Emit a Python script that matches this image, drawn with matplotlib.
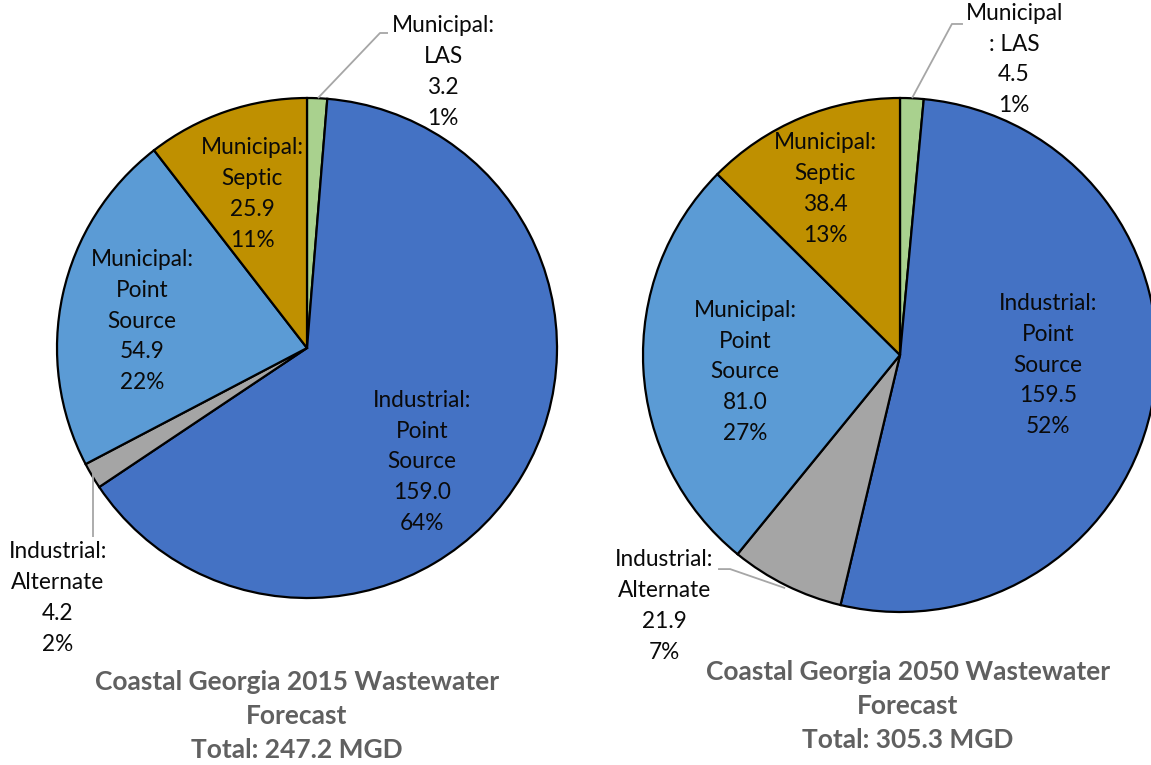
import matplotlib
matplotlib.use("Agg")
import matplotlib.pyplot as plt

plt.rcParams['font.family'] = ['Lato', 'DejaVu Sans']

# ---- data ----
categories = ["Municipal: LAS", "Industrial: Point Source", "Industrial: Alternate",
              "Municipal: Point Source", "Municipal: Septic"]
label_names_2015 = ["Municipal:\nLAS", "Industrial:\nPoint\nSource", "Industrial:\nAlternate",
                    "Municipal:\nPoint\nSource", "Municipal:\nSeptic"]
label_names_2050 = ["Municipal\n: LAS", "Industrial:\nPoint\nSource", "Industrial:\nAlternate",
                    "Municipal:\nPoint\nSource", "Municipal:\nSeptic"]
values_2015 = [3.2, 159.0, 4.2, 54.9, 25.9]
values_2050 = [4.5, 159.5, 21.9, 81.0, 38.4]
pct_2015 = ["1%", "64%", "2%", "22%", "11%"]
pct_2050 = ["1%", "52%", "7%", "27%", "13%"]
title_2015 = "Coastal Georgia 2015 Wastewater\nForecast\nTotal: 247.2 MGD"
title_2050 = "Coastal Georgia 2050 Wastewater\nForecast\nTotal: 305.3 MGD"

colors = ["#A9D18E", "#4472C4", "#A5A5A5", "#5B9BD5", "#BF9000"]

W, H = 1151, 765
fig = plt.figure(figsize=(W / 100, H / 100), dpi=100)
fig.patch.set_facecolor("white")


def pie_axes(cx, cy, r):
    ax = fig.add_axes([(cx - r) / W, (H - cy - r) / H, 2 * r / W, 2 * r / H])
    ax.set_xlim(-1, 1)
    ax.set_ylim(-1, 1)
    ax.axis("off")
    return ax


def draw(ax, values, names, pcts, label_pos, leaders):
    ax.pie(values, colors=colors, startangle=90, counterclock=False, radius=1,
           center=(0, 0), frame=False,
           wedgeprops=dict(edgecolor="black", linewidth=1.6))
    ax.set_xlim(-1, 1)
    ax.set_ylim(-1, 1)
    ax.set_aspect("auto")
    for v, n, p, (x, y) in zip(values, names, pcts, label_pos):
        ax.text(x, y, f"{n}\n{v:.1f}\n{p}", ha="center", va="center",
                fontsize=16.3, color="#0a0a0a", linespacing=1.58, clip_on=False)
    for xs, ys in leaders:
        ax.plot(xs, ys, color="#A6A6A6", lw=1.3, clip_on=False, solid_capstyle="butt")


ax1 = pie_axes(307, 348, 250)
pos_2015 = [(0.544, 1.104), (0.46, -0.456), (-0.996, -1.0), (-0.66, 0.108), (-0.22, 0.616)]
lead_2015 = [([0.044, 0.292, 0.324], [1.0, 1.26, 1.26]),
             ([-0.856, -0.856], [-0.5, -0.756])]
draw(ax1, values_2015, label_names_2015, pct_2015, pos_2015, lead_2015)

ax2 = pie_axes(900, 355, 257)
pos_2050 = [(0.444, 1.150), (0.576, -0.039), (-0.918, -0.977), (-0.603, -0.066), (-0.292, 0.646)]
lead_2050 = [([0.047, 0.202, 0.245], [1.0, 1.288, 1.288]),
             ([-0.708, -0.661, -0.447], [-0.833, -0.833, -0.907])]
draw(ax2, values_2050, label_names_2050, pct_2050, pos_2050, lead_2050)

fig.text(297 / W, 1 - 716 / H, title_2015, ha="center", va="center", fontsize=19,
         fontweight="bold", color="#606060", linespacing=1.50)
fig.text(908 / W, 1 - 706 / H, title_2050, ha="center", va="center", fontsize=19,
         fontweight="bold", color="#606060", linespacing=1.50)

fig.savefig("out.png", dpi=100, facecolor="white")
